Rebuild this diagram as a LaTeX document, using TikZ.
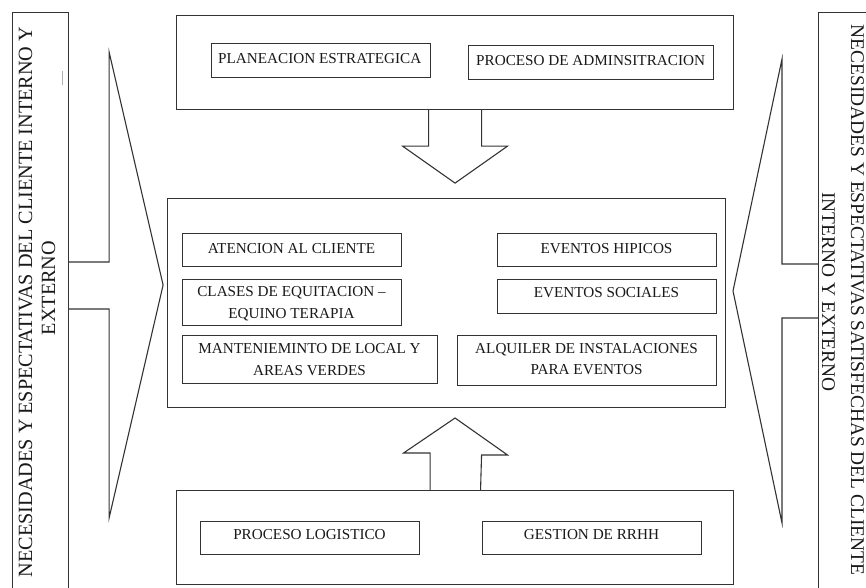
\documentclass[tikz,border=0pt]{standalone}
\usepackage{fontspec}
\setmainfont{Liberation Serif}
\usetikzlibrary{calc}
\begin{document}
\begin{tikzpicture}[x=1pt,y=-1pt,
  frame/.style={draw=black!80, line width=1.1pt, inner sep=0pt, anchor=north west},
  item/.style={font=\fontsize{15.2}{21}\selectfont, text=black!90, anchor=base, inner sep=0pt},
  side/.style={font=\fontsize{20.2}{24}\selectfont, text=black!90, anchor=base, inner sep=0pt},
  blockarrow/.style={draw=black!80, line width=1.1pt, line join=miter}]
\useasboundingbox (0,0) rectangle (866,587);
\clip (0,0) rectangle (866,587);

% side panels (run off the page)
\node[frame, minimum width=56pt, minimum height=620pt] (lbox) at (12,12) {};
\node[frame, minimum width=80pt, minimum height=620pt] (rbox) at (818,12) {};
\draw[black!30, line width=0.8pt] (62,71) -- (62,85);

\node[side, rotate=90] (lin1) at (32,302) {NECESIDADES Y ESPECTATIVAS DEL CLIENTE INTERNO Y};
\node[side, rotate=90] (lin2) at (55,288) {EXTERNO};
\node[side, rotate=-90, font=\fontsize{19.4}{24}\selectfont] (rin1) at (851,300) {NECESIDADES Y ESPECTATIVAS SATISFECHAS DEL CLIENTE};
\node[side, rotate=-90, font=\fontsize{19.4}{24}\selectfont] (rin2) at (822,292) {INTERNO Y EXTERNO};

% strategic processes
\node[frame, minimum width=557pt, minimum height=94pt] (plan) at (176,15) {};
\node[frame, minimum width=219pt, minimum height=34pt] (pe) at (211,43) {};
\node[item, anchor=base west] (pet) at (218,63) {PLANEACION ESTRATEGICA};
\node[frame, minimum width=245pt, minimum height=34pt] (pa) at (468,45) {};
\node[item, anchor=base west] (pat) at (476,65) {PROCESO DE ADMINSITRACION};

% core processes
\node[frame, minimum width=558pt, minimum height=209pt] (core) at (167,198) {};
\node[frame, minimum width=219pt, minimum height=33pt] (ac) at (182,233) {};
\node[item] (act) at (291.5,253) {ATENCION AL CLIENTE};
\node[frame, minimum width=219pt, minimum height=46pt] (ce) at (182,279) {};
\node[item] (cet1) at (291.5,296) {CLASES DE EQUITACION –};
\node[item] (cet2) at (291.5,318) {EQUINO TERAPIA};
\node[frame, minimum width=255pt, minimum height=48pt] (ml) at (182,335) {};
\node[item] (mlt1) at (309.5,353) {MANTENIEMINTO DE LOCAL Y};
\node[item] (mlt2) at (309.5,375) {AREAS VERDES};
\node[frame, minimum width=219pt, minimum height=33pt] (eh) at (497,233) {};
\node[item] (eht) at (606.5,253) {EVENTOS HIPICOS};
\node[frame, minimum width=219pt, minimum height=34pt] (es) at (497,279) {};
\node[item] (est) at (606.5,297) {EVENTOS SOCIALES};
\node[frame, minimum width=259pt, minimum height=50pt] (ai) at (457,335) {};
\node[item] (ait1) at (586.5,353) {ALQUILER DE INSTALACIONES};
\node[item] (ait2) at (586.5,374) {PARA EVENTOS};

% support processes
\node[frame, minimum width=557pt, minimum height=94pt] (sup) at (176,490) {};
\node[frame, minimum width=219pt, minimum height=33pt] (pl) at (200,521) {};
\node[item] (plt) at (309.5,539) {PROCESO LOGISTICO};
\node[frame, minimum width=219pt, minimum height=33pt] (gr) at (482,521) {};
\node[item] (grt) at (591.5,539) {GESTION DE RRHH};

% block arrows
\draw[blockarrow] ($(plan.south)+(-26.5,0)$) -- ++(0,36) -- ++(-26,0)
  -- ($(plan.south)+(0,73)$) -- ++(52.5,-37) -- ++(-26,0) -- ($(plan.south)+(26.5,0)$);
\draw[blockarrow] ($(sup.north)+(-25,0)$) -- ++(0,-37) -- ++(-26.5,0)
  -- ($(sup.north)+(0,-72)$) -- ++(52.5,37) -- ++(-26,0) -- ($(sup.north)+(25.5,0)$);

\coordinate (la) at (lbox.north east);
\draw[blockarrow] ($(la)+(0,250)$) -- ++(40,0) -- ++(0,-210) -- ++(54,233)
  -- ++(-54,233) -- ++(0,-209) -- ++(-40,0);
\coordinate (ra) at (rbox.north west);
\draw[blockarrow] ($(ra)+(0,252)$) -- ++(-36,0) -- ++(0,-205) -- ++(-49,232)
  -- ++(49,232) -- ++(0,-205) -- ++(36,0);
\end{tikzpicture}
\end{document}
